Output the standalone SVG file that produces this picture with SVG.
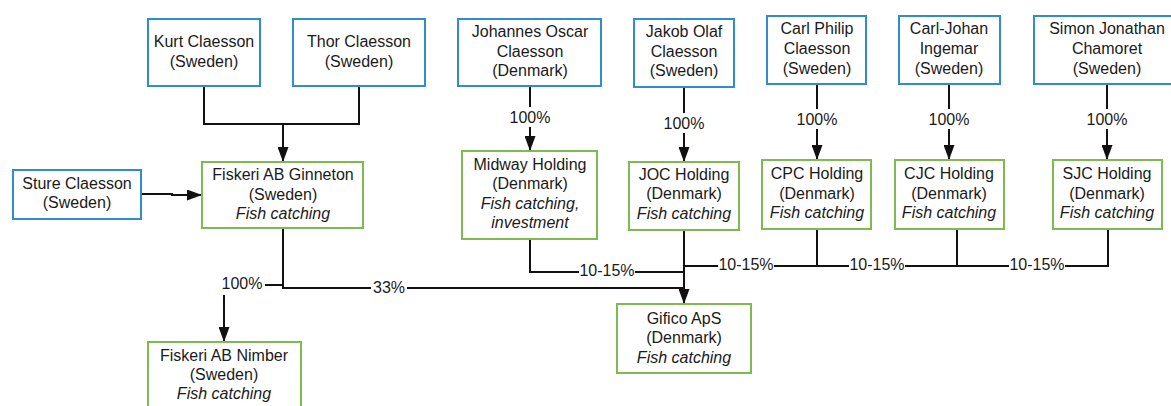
<svg xmlns="http://www.w3.org/2000/svg" width="1171" height="406" viewBox="0 0 1171 406">
<style>
text{font-family:"Liberation Sans",Arial,sans-serif;font-size:16px;fill:#1a1a1a;text-anchor:middle;dominant-baseline:central}
.it{font-style:italic}
.p{fill:#fff;stroke:#2f8dc9;stroke-width:2}
.c{fill:#fff;stroke:#7dbb4f;stroke-width:2}
.ln{fill:none;stroke:#111;stroke-width:2}
.lb{fill:#fff;stroke:none}
</style>
<defs>
<marker id="ah" viewBox="0 0 15 11" refX="15" refY="5.5" markerWidth="15" markerHeight="11" markerUnits="userSpaceOnUse" orient="auto">
<path d="M0,0 L15,5.5 L0,11 z" fill="#111"/>
</marker>
</defs>
<g id="connectors">
<path class="ln" d="M204,86 V124 H359 V86"/>
<path class="ln" d="M283,124 V162" marker-end="url(#ah)"/>
<path class="ln" d="M141,194 H172 V195 H202" marker-end="url(#ah)"/>
<path class="ln" d="M530,86 V151" marker-end="url(#ah)"/>
<path class="ln" d="M684,87 V162" marker-end="url(#ah)"/>
<path class="ln" d="M817,84 V160" marker-end="url(#ah)"/>
<path class="ln" d="M949,84 V160" marker-end="url(#ah)"/>
<path class="ln" d="M1107,84 V160" marker-end="url(#ah)"/>
<path class="ln" d="M283,228 V288 H684"/>
<path class="ln" d="M283,285 H224 V342" marker-end="url(#ah)"/>
<path class="ln" d="M530,239 V272 H684"/>
<path class="ln" d="M684,230 V304" marker-end="url(#ah)"/>
<path class="ln" d="M684,266 H1108 V229"/>
<path class="ln" d="M817,229 V266"/>
<path class="ln" d="M957,229 V266"/>
<rect class="lb" x="508" y="107" width="44" height="20"/><text x="530" y="117">100%</text>
<rect class="lb" x="662" y="113" width="44" height="20"/><text x="684" y="123">100%</text>
<rect class="lb" x="795" y="109" width="44" height="20"/><text x="817" y="119">100%</text>
<rect class="lb" x="927" y="109" width="44" height="20"/><text x="949" y="119">100%</text>
<rect class="lb" x="1085" y="109" width="44" height="20"/><text x="1107" y="119">100%</text>
<rect class="lb" x="219" y="273" width="46" height="22"/><text x="242" y="283">100%</text>
<rect class="lb" x="371" y="278" width="36" height="18"/><text x="389" y="287">33%</text>
<rect class="lb" x="579" y="261" width="56" height="18"/><text x="607" y="270">10-15%</text>
<rect class="lb" x="718" y="255" width="56" height="18"/><text x="746" y="264">10-15%</text>
<rect class="lb" x="849" y="255" width="56" height="18"/><text x="877" y="264">10-15%</text>
<rect class="lb" x="1009" y="255" width="56" height="18"/><text x="1037" y="264">10-15%</text>
</g>
<g id="kurt"><rect class="p" x="148" y="19" width="112" height="67"/><text x="204" y="41">Kurt Claesson</text><text x="204" y="61">(Sweden)</text></g>
<g id="thor"><rect class="p" x="293" y="19" width="132" height="67"/><text x="359" y="41">Thor Claesson</text><text x="359" y="61">(Sweden)</text></g>
<g id="sture"><rect class="p" x="13" y="170" width="128" height="49"/><text x="77" y="183">Sture Claesson</text><text x="77" y="202">(Sweden)</text></g>
<g id="ginneton"><rect class="c" x="202" y="162" width="161" height="66"/><text x="283" y="174">Fiskeri AB Ginneton</text><text x="283" y="194">(Sweden)</text><text class="it" x="283" y="213">Fish catching</text></g>
<g id="johannes"><rect class="p" x="458" y="19" width="143" height="67"/><text x="530" y="31">Johannes Oscar</text><text x="530" y="51">Claesson</text><text x="530" y="70">(Denmark)</text></g>
<g id="midway"><rect class="c" x="462" y="151" width="135" height="88"/><text x="530" y="164">Midway Holding</text><text x="530" y="183">(Denmark)</text><text class="it" x="530" y="203">Fish catching,</text><text class="it" x="530" y="222">investment</text></g>
<g id="jakob"><rect class="p" x="634" y="19" width="100" height="68"/><text x="684" y="31">Jakob Olaf</text><text x="684" y="51">Claesson</text><text x="684" y="70">(Sweden)</text></g>
<g id="joc"><rect class="c" x="629" y="162" width="110" height="68"/><text x="684" y="174">JOC Holding</text><text x="684" y="193">(Denmark)</text><text class="it" x="684" y="213">Fish catching</text></g>
<g id="carlphilip"><rect class="p" x="767" y="16" width="99" height="68"/><text x="817" y="28">Carl Philip</text><text x="817" y="48">Claesson</text><text x="817" y="68">(Sweden)</text></g>
<g id="cpc"><rect class="c" x="762" y="160" width="109" height="69"/><text x="817" y="173">CPC Holding</text><text x="817" y="193">(Denmark)</text><text class="it" x="817" y="212">Fish catching</text></g>
<g id="carljohan"><rect class="p" x="899" y="16" width="101" height="68"/><text x="949" y="28">Carl-Johan</text><text x="949" y="48">Ingemar</text><text x="949" y="68">(Sweden)</text></g>
<g id="cjc"><rect class="c" x="895" y="160" width="109" height="69"/><text x="949" y="173">CJC Holding</text><text x="949" y="193">(Denmark)</text><text class="it" x="949" y="212">Fish catching</text></g>
<g id="simon"><rect class="p" x="1034" y="16" width="140" height="68"/><text x="1107" y="28">Simon Jonathan</text><text x="1107" y="48">Chamoret</text><text x="1107" y="68">(Sweden)</text></g>
<g id="sjc"><rect class="c" x="1053" y="160" width="109" height="69"/><text x="1107" y="173">SJC Holding</text><text x="1107" y="193">(Denmark)</text><text class="it" x="1107" y="212">Fish catching</text></g>
<g id="gifico"><rect class="c" x="617" y="304" width="134" height="69"/><text x="684" y="318">Gifico ApS</text><text x="684" y="337">(Denmark)</text><text class="it" x="684" y="357">Fish catching</text></g>
<g id="nimber"><rect class="c" x="148" y="342" width="153" height="70"/><text x="224" y="355">Fiskeri AB Nimber</text><text x="224" y="374">(Sweden)</text><text class="it" x="224" y="393">Fish catching</text></g>
</svg>
